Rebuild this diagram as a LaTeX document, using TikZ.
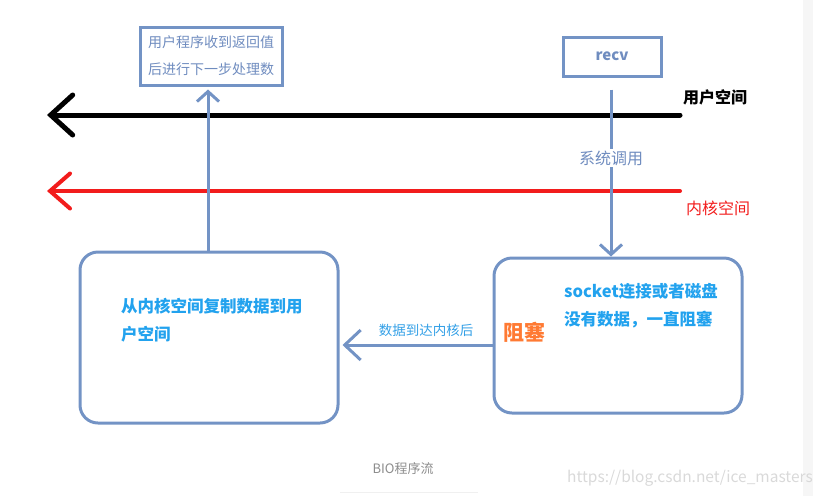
\documentclass[tikz,border=0pt]{standalone}
\usepackage{fontspec}
\setmainfont{Noto Sans CJK SC}
\usepackage{tikz}
\usetikzlibrary{arrows.meta,backgrounds}
\definecolor{boxblue}{HTML}{7393C5}
\definecolor{txtblue}{HTML}{22A2EE}
\definecolor{blockorange}{HTML}{FF7A33}
\definecolor{greytext}{HTML}{6F8CBF}
\definecolor{kernred}{HTML}{F21C1C}
\newcommand{\boxcolor}{boxblue}
\newcommand{\thickness}{3pt}
\newcommand{\fs}[2]{\fontsize{#1}{#2}\selectfont}

\begin{document}
\begin{tikzpicture}[x=1pt, y=-1pt]
\useasboundingbox (0,0) rectangle (813,496);
\fill[gray!7] (803,0) rectangle (813,496);
%boxes
\node[draw=\boxcolor, line width=\thickness, minimum width=142, minimum height=58, inner sep=0] (done) at (211,56) [align=center, text=greytext, font=\fs{14}{27}] {用户程序收到返回值\\后进行下一步处理数};
\node[draw=\boxcolor, line width=\thickness, minimum width=98, minimum height=39, inner sep=0] (recv) at (612,56.5) [text=greytext, font=\fs{15}{18}\bfseries] {recv};
\node[draw=\boxcolor, line width=\thickness, minimum width=258, minimum height=171, rounded corners=18] (copy) at (209,337.5) {};
\node[draw=\boxcolor, line width=\thickness, minimum width=248, minimum height=155, rounded corners=18] (sock) at (618,335.5) {};
\node (copytext) at (121,298) [anchor=north west, align=left, inner sep=0, text=txtblue, font=\fs{16.5}{28}\bfseries] {从内核空间复制数据到用\\户空间};
\node (socktext) at (564,283) [anchor=north west, align=left, inner sep=0, text=txtblue, font=\fs{16.5}{28}\bfseries] {socket连接或者磁盘\\没有数据，一直阻塞};
\node (block) at (524,332) [inner sep=0, text=blockorange, font=\fs{21}{24}\bfseries] {阻塞};
%user / kernel
\coordinate (uend) at (680,115);
\coordinate (utip) at (47,115);
\coordinate (kend) at (680,191);
\coordinate (ktip) at (47,191);
\draw[black, line width=5pt, line cap=round, -{Straight Barb[length=22pt, width=40pt, line cap=round]}] (uend) -- (utip);
\draw[kernred, line width=4pt, line cap=round, -{Straight Barb[length=20pt, width=35pt, line cap=round]}] (kend) -- (ktip);
\node (user) at (683,97) [anchor=west, inner sep=0, font=\fs{16}{18}\bfseries] {用户空间};
\node (kernel) at (686,208) [anchor=west, inner sep=0, text=kernred, font=\fs{16}{18}] {内核空间};
%calls
\draw[\boxcolor, line width=\thickness, -{Straight Barb[length=10pt, width=22pt]}] ([xshift=-1pt, yshift=-12pt]recv.south) -- ([xshift=-1pt]recv.south |- sock.north);
\node (syscall) at (611,158) [fill=white, inner sep=2pt, text=greytext, font=\fs{16}{18}] {系统调用};
\draw[\boxcolor, line width=\thickness, -{Straight Barb[length=10pt, width=22pt]}] ([xshift=-1pt]copy.north) -- ([xshift=-3pt, yshift=-3pt]done.south);
\coordinate (datay) at (0,345);
\draw[\boxcolor, line width=\thickness, -{Straight Barb[length=16pt, width=30pt]}] (sock.west |- datay) -- ([xshift=3pt]copy.east |- datay);
\node (arrive) at (426,330) [inner sep=0, text=txtblue!80!boxblue, font=\fs{13.5}{16}] {数据到达内核后};
%caption
\node (caption) at (403,469) [inner sep=0, text=gray!90, font=\fs{13}{15}] {BIO程序流};
\draw[gray!12, line width=1pt] (340,492) -- (478,492);
\node (mark) at (690,478) [inner sep=0, text=gray!30, font=\fs{15.5}{18}] {https://blog.csdn.net/ice\_masters};
\end{tikzpicture}
\end{document}
